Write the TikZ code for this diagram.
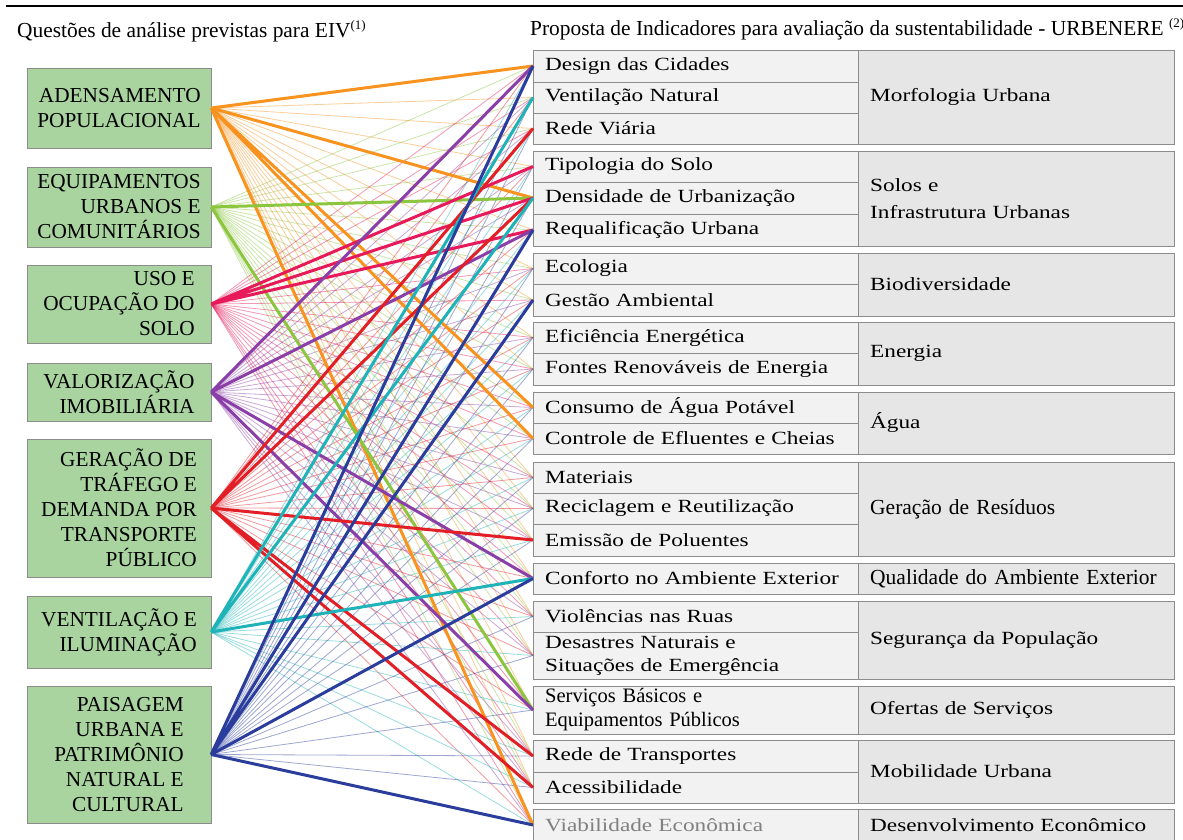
\documentclass[tikz,border=0pt]{standalone}
\usepackage{fontspec}
\setmainfont{Liberation Serif}
\newfontfamily\largo[FakeStretch=1.25]{Liberation Serif}
\usetikzlibrary{positioning}

\definecolor{cAden}{HTML}{F7931E}
\definecolor{cEquip}{HTML}{8CC63F}
\definecolor{cUso}{HTML}{E8195A}
\definecolor{cValor}{HTML}{8A3FA8}
\definecolor{cTraf}{HTML}{E21F26}
\definecolor{cVent}{HTML}{1DB3B8}
\definecolor{cPais}{HTML}{2A3D9C}
\definecolor{verdecx}{HTML}{A9D4A0}
\definecolor{cinzacl}{HTML}{F2F2F2}
\definecolor{cinza}{HTML}{E6E6E6}
\definecolor{borda}{HTML}{8C8C8C}

\tikzset{
	questao/.style={draw=borda, fill=verdecx, minimum width=184pt, align=right,
		inner sep=0pt, font=\rmfamily\fontsize{21.3}{25}\selectfont},
	indicador/.style={draw=borda, fill=cinzacl, anchor=west, minimum width=325pt,
		text width=301pt, inner xsep=12pt, inner ysep=0pt, minimum height=31.5pt,
		align=left, font=\largo\fontsize{18.6}{23}\selectfont},
	tema/.style={draw=borda, fill=cinza, anchor=west, minimum width=316pt,
		text width=292pt, inner xsep=12pt, inner ysep=0pt, align=left,
		font=\largo\fontsize{18.6}{27}\selectfont},
	fio/.style={line width=0.8pt, opacity=0.45},
	grosso/.style={line width=3pt},
}

\begin{document}
\begin{tikzpicture}[x=1pt, y=-1pt]
		\useasboundingbox (0,0) rectangle (1183,839);
		\fill[white] (0,0) rectangle (1183,839);
		\draw[line width=2.5pt] (6,6) -- (1183,6);
		\node[anchor=base west, inner sep=0pt, font=\fontsize{21.4}{24}\selectfont] (tit1) at (17,37)
		{Questões de análise previstas para EIV{\fontsize{13}{13}\selectfont\raisebox{8pt}{(1)}}};
		\node[anchor=base west, inner sep=0pt, font=\fontsize{21.4}{24}\selectfont] (tit2) at (530,35)
		{Proposta de Indicadores para avaliação da sustentabilidade - URBENERE {\fontsize{13}{13}\selectfont\raisebox{8pt}{(2)}}};

		% questoes do EIV
		\node[questao, minimum height=80pt] (aden) at (119,108) {ADENSAMENTO\\POPULACIONAL};
		\node[questao, minimum height=80pt] (equip) at (119,207) {EQUIPAMENTOS\\URBANOS E\\COMUNITÁRIOS};
		\node[questao, minimum height=78pt] (uso) at (119,304) {USO E\\OCUPAÇÃO DO\\SOLO};
		\node[questao, minimum height=58pt] (valor) at (119,392) {VALORIZAÇÃO\\IMOBILIÁRIA};
		\node[questao, minimum height=138pt] (trafego) at (119,508) {GERAÇÃO DE\\TRÁFEGO E\\DEMANDA POR\\TRANSPORTE\\PÚBLICO};
		\node[questao, minimum height=72pt] (ventil) at (119,632) {VENTILAÇÃO E\\ILUMINAÇÃO};
		\node[questao, minimum height=137pt] (paisag) at (119,754.5) {PAISAGEM\\URBANA E\\PATRIMÔNIO\\NATURAL E\\CULTURAL};

		% temas URBENERE
		\node[tema, minimum height=94pt] (morf) at (858,97) {Morfologia Urbana};
		\node[tema, minimum height=95pt] (solos) at (858,198.5) {Solos e\\Infrastrutura Urbanas};
		\node[tema, minimum height=63pt] (biod) at (858,284.5) {Biodiversidade};
		\node[tema, minimum height=63pt] (energ) at (858,353.5) {Energia};
		\node[tema, minimum height=62pt] (agua) at (858,423) {Água};
		\node[tema, minimum height=94pt, font=\fontsize{21.5}{25}\selectfont] (resid) at (858,509) {Geração de Resíduos};
		\node[tema, minimum height=31pt, font=\fontsize{21.5}{25}\selectfont] (qualid) at (858,578.5) {Qualidade do Ambiente Exterior};
		\node[tema, minimum height=78pt] (segur) at (858,640) {Segurança da População};
		\node[tema, minimum height=48pt] (ofert) at (858,710) {Ofertas de Serviços};
		\node[tema, minimum height=63pt] (mobil) at (858,771.5) {Mobilidade Urbana};
		\node[tema, minimum height=32pt] (desenv) at (858,825) {Desenvolvimento Econômico};

		% indicadores
		\node[indicador] (design) at (533,66) {Design das Cidades};
		\node[indicador] (ventnat) at (533,97.5) {Ventilação Natural};
		\node[indicador] (redevia) at (533,128.5) {Rede Viária};
		\node[indicador] (tipol) at (533,166.5) {Tipologia do Solo};
		\node[indicador] (densid) at (533,198) {Densidade de Urbanização};
		\node[indicador] (requal) at (533,230) {Requalificação Urbana};
		\node[indicador] (ecol) at (533,268.5) {Ecologia};
		\node[indicador] (gestao) at (533,300) {Gestão Ambiental};
		\node[indicador] (efic) at (533,337.5) {Eficiência Energética};
		\node[indicador] (fontes) at (533,369) {Fontes Renováveis de Energia};
		\node[indicador] (consumo) at (533,407.5) {Consumo de Água Potável};
		\node[indicador] (controle) at (533,438.5) {Controle de Efluentes e Cheias};
		\node[indicador] (mater) at (533,477.5) {Materiais};
		\node[indicador] (recicl) at (533,508.5) {Reciclagem e Reutilização};
		\node[indicador] (emissao) at (533,540) {Emissão de Poluentes};
		\node[indicador] (conforto) at (533,578.5) {Conforto no Ambiente Exterior};
		\node[indicador] (violen) at (533,616.5) {Violências nas Ruas};
		\node[indicador, minimum height=47pt] (desast) at (533,655.5) {Desastres Naturais e\\Situações de Emergência};
		\node[indicador, minimum height=48pt, font=\fontsize{20.5}{24}\selectfont] (servic) at (533,710) {Serviços Básicos e\\Equipamentos Públicos};
		\node[indicador] (redetr) at (533,756) {Rede de Transportes};
		\node[indicador] (acess) at (533,787.5) {Acessibilidade};
		\node[indicador, minimum height=32pt, text=gray] (viab) at (533,825) {Viabilidade Econômica};

		% todas as ligacoes finas
		\foreach \q/\c in {aden/cAden, equip/cEquip, uso/cUso, valor/cValor, trafego/cTraf, ventil/cVent, paisag/cPais}
		\foreach \i in {design, ventnat, redevia, tipol, densid, requal, ecol, gestao, efic, fontes, consumo,
			controle, mater, recicl, emissao, conforto, violen, desast, servic, redetr, acess, viab}
		\draw[fio, \c] (\q.east) -- (\i.west);

		% ligacoes fortes
		\draw[grosso, cAden] (aden.east) -- (design.west) (aden.east) -- (densid.west)
		(aden.east) -- (consumo.west) (aden.east) -- (controle.west) (aden.east) -- (viab.west);
		\draw[grosso, cEquip] (equip.east) -- (densid.west) (equip.east) -- (servic.west);
		\draw[grosso, cUso] (uso.east) -- (tipol.west) (uso.east) -- (densid.west) (uso.east) -- (requal.west);
		\draw[grosso, cValor] (valor.east) -- (design.west) (valor.east) -- (requal.west)
		(valor.east) -- (conforto.west) (valor.east) -- (servic.west);
		\draw[grosso, cTraf] (trafego.east) -- (redevia.west) (trafego.east) -- (densid.west)
		(trafego.east) -- (emissao.west) (trafego.east) -- (redetr.west) (trafego.east) -- (acess.west);
		\draw[grosso, cVent] (ventil.east) -- (ventnat.west) (ventil.east) -- (densid.west) (ventil.east) -- (conforto.west);
		\draw[grosso, cPais] (paisag.east) -- (design.west) (paisag.east) -- (requal.west)
		(paisag.east) -- (gestao.west) (paisag.east) -- (conforto.west) (paisag.east) -- (viab.west);
	\end{tikzpicture}
\end{document}
